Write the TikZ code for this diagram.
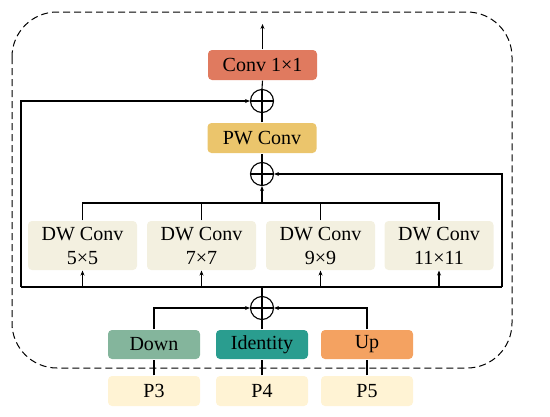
\documentclass[tikz,border=0pt]{standalone}
\usepackage{fontspec}
\setmainfont{Liberation Serif}
\usetikzlibrary{arrows.meta}
\definecolor{convred}{HTML}{E07A5F}
\definecolor{pwyel}{HTML}{EBC56C}
\definecolor{dwbg}{HTML}{F3F0E0}
\definecolor{downc}{HTML}{84B59C}
\definecolor{idc}{HTML}{2A9D8F}
\definecolor{upc}{HTML}{F4A261}
\definecolor{pbg}{HTML}{FFF3D4}
\begin{document}
\begin{tikzpicture}[x=1pt,y=-1pt,
  font=\fontsize{20}{22}\selectfont,
  line width=1.1pt,
  >={Stealth[length=5pt,width=4pt]},
  blk/.style={rounded corners=4pt, inner sep=0pt, align=center},
  wide/.style={blk, minimum width=109pt, minimum height=30pt},
  dwbox/.style={blk, fill=dwbg, minimum width=109pt, minimum height=49pt, font=\fontsize{20}{24}\selectfont},
  small/.style={blk, minimum width=92pt, minimum height=29pt},
  opl/.style={circle, draw, minimum size=23pt, inner sep=0pt}
]
\useasboundingbox (0,0) rectangle (550,416);
\draw[dashed, dash pattern=on 7pt off 4pt, line width=1pt, rounded corners=45pt] (12,12) rectangle (512,368);

\node[wide, fill=convred] (conv) at (262.5,65) {Conv 1×1};
\node[opl] (o1) at (262,101) {};
\node[wide, fill=pwyel] (pw) at (262,138) {PW Conv};
\node[opl] (o2) at (262,174) {};
\node[dwbox] (dw1) at (82.5,245.5) {DW Conv\\5×5};
\node[dwbox] (dw2) at (201.5,245.5) {DW Conv\\7×7};
\node[dwbox] (dw3) at (320.5,245.5) {DW Conv\\9×9};
\node[dwbox] (dw4) at (439,245.5) {DW Conv\\11×11};
\node[opl] (o3) at (262,308) {};
\node[small, fill=downc] (down) at (154,344.5) {Down};
\node[small, fill=idc] (id) at (262,344.5) {Identity};
\node[small, fill=upc] (up) at (367,344.5) {Up};
\node[small, fill=pbg, minimum height=30pt] (p3) at (154,391) {P3};
\node[small, fill=pbg, minimum height=30pt] (p4) at (262,391) {P4};
\node[small, fill=pbg, minimum height=30pt] (p5) at (367,391) {P5};

\foreach \o in {o1,o2,o3}{
  \draw (\o.north) -- (\o.south);
  \draw (\o.west) -- (\o.east);
}

\coordinate (out) at (262.5,24);
\coordinate (busT) at (262,203);
\coordinate (L) at (21,287);
\coordinate (R) at (502,287);
\coordinate (busB) at (262,287);

\draw[->] (conv.north) -- (out);
\draw (o1.north) -- (conv.south);
\draw (pw.north) -- (o1.south);
\draw (o2.north) -- (pw.south);

\draw (dw1.north) -- (dw1.north |- busT) -- (dw4.north |- busT) -- (dw4.north);
\draw (dw2.north) -- (dw2.north |- busT);
\draw (dw3.north) -- (dw3.north |- busT);
\draw[->] (busT) -- (o2.south);

\draw (L) -- (R);
\draw[->] (L) |- (o1.west);
\draw[->] (R) |- (o2.east);
\foreach \d in {dw1,dw2,dw3,dw4}{
  \draw[->] (\d.south |- L) -- (\d.south);
}
\draw (o3.north) -- (busB);

\draw[->] (down.north) |- (o3.west);
\draw[->] (up.north) |- (o3.east);
\draw (id.north) -- (o3.south);

\draw (p3.north) -- (down.south);
\draw (p4.north) -- (id.south);
\draw (p5.north) -- (up.south);
\end{tikzpicture}
\end{document}
